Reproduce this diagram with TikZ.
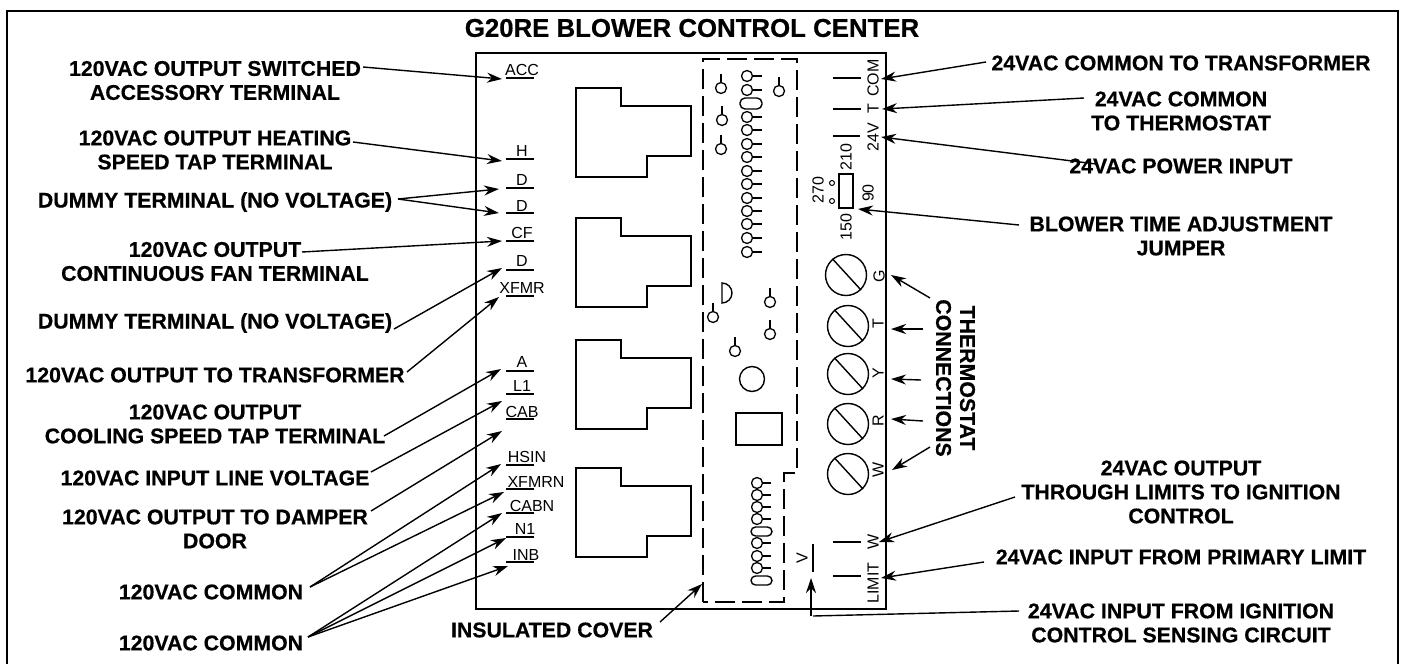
\documentclass[tikz,border=0pt]{standalone}
\usepackage{fontspec}
\setmainfont{Liberation Sans}[BoldFeatures={FakeBold=0.5}]
\usetikzlibrary{arrows.meta}

\tikzset{
    lbl/.style={font=\fontsize{21.3}{24}\selectfont\bfseries, align=center, inner sep=0pt},
    term/.style={font=\fontsize{16}{18}\selectfont, inner sep=0pt},
    ptr/.style={line width=1.4pt, -{Stealth[length=15pt, width=10pt]}},
    pin/.style={circle, draw, line width=1.3pt, minimum size=11pt, inner sep=0pt},
    screw/.style={circle, draw, line width=1.4pt, minimum size=41pt, inner sep=0pt},
    wire/.style={line width=1.4pt},
    tab/.style={line width=1.5pt, line join=miter}
}

\newcommand{\relaybox}[1]{
    \draw [tab, shift={(0,#1)}] (576,0) -- (621,0) -- (621,18) -- (691,18) -- (691,68) -- (647,68) -- (647,89) -- (576,89) -- cycle;
}

\begin{document}
\begin{tikzpicture}[x=1pt, y=-1pt]
    \useasboundingbox (0,0) rectangle (1404,664);

    % frames
    \coordinate (fa) at (7,664);
    \coordinate (fb) at (7,11);
    \coordinate (fc) at (1398,11);
    \coordinate (fd) at (1398,664);
    \draw [line width=2pt] (fa) -- (fb) -- (fc) -- (fd);
    \draw [wire] (476,609) -- (476,53) -- (886,53) -- (886,609) -- cycle;
    \node [lbl, font=\fontsize{25.8}{28}\selectfont\bfseries] (title) at (692,28) {G20RE BLOWER CONTROL CENTER};

    % relays
    \relaybox{88}
    \relaybox{218}
    \relaybox{340}
    \relaybox{468}

    % terminals on the left
    \foreach \name/\txt/\cx/\by/\ly in {tacc/ACC/522/75/78, th/H/522/156/159, tda/D/522/185/188, tdb/D/522/211/213,
        tcf/CF/522/238/241, tdc/D/522/266/270, txf/XFMR/522/293/296, ta/A/522/367/371, tla/L1/522/391/394,
        tcab/CAB/522/417/419, thsin/HSIN/527/462/465, txn/XFMRN/536/487/489, tcn/CABN/532/511/513,
        tna/N1/525/534/537, tinb/INB/526/560/562} {
        \node [term, anchor=base] (\name) at (\cx,\by) {\txt};
        \draw [wire] (506,\ly) -- (534,\ly);
    }

    % cover
    \draw [line width=1.5pt, dash pattern=on 20pt off 7pt] (703,602) -- (703,59) -- (797,59) -- (797,473) -- (784,473) -- (784,602) -- cycle;

    % pins in the cover
    \foreach \n/\py in {a/76, b/90, c/117, d/130, e/144, f/157, g/171, h/184, i/198, j/211, k/224, l/238, m/252} {
        \node [pin] (up\n) at (747,\py) {};
        \draw [wire] (up\n.east) -- (762,\py);
    }
    \draw [wire, rounded corners=5pt] (740,98) rectangle (762,109);
    \foreach \n/\py in {a/483, b/495, c/507, d/519, e/543, f/556, g/568} {
        \node [pin] (lo\n) at (757,\py) {};
        \draw [wire] (lo\n.east) -- (771,\py);
    }
    \draw [wire, rounded corners=4.5pt] (751,527) rectangle (772,536);
    \draw [wire, rounded corners=4.5pt] (751,576) rectangle (772,585);
    \foreach \n/\px/\py in {a/721/88, b/722/120, c/721/149, d/779/91, e/770/302, f/770/334, g/713/317, h/735/351} {
        \node [pin] (st\n) at (\px,\py) {};
        \draw [wire] (st\n.north) -- ++(0,-8);
    }
    \draw [wire] (722,303) arc (90:-90:10) -- cycle;
    \node [circle, draw, line width=1.4pt, minimum size=25pt, inner sep=0pt] (bigc) at (752,379) {};
    \draw [wire] (736,413) rectangle (782,445);

    % right terminals
    \draw [wire] (833,78) -- (861,78);
    \draw [wire] (833,109) -- (861,109);
    \draw [wire] (833,136) -- (860,136);
    \draw [wire] (833,542) -- (861,542);
    \draw [wire] (833,576) -- (861,576);
    \draw [wire] (813,544) -- (813,572);
    \foreach \name/\txt/\cx/\cy in {rcom/COM/873/78, rt/T/873/109, rv/24V/873/137, rw/W/873/542, rlim/LIMIT/873/583,
        rvv/V/802/558, ta/270/818/190, tb/210/846/157, tc/90/868/193, td/150/846/227,
        sg/G/879/276, st/T/878/324, sy/Y/878/373, sr/R/878/421, sw/W/878/470} {
        \node [term, rotate=90] (\name) at (\cx,\cy) {\txt};
    }

    % jumper
    \draw [wire] (839,174) rectangle (853,208);
    \node [circle, draw, line width=1pt, minimum size=5pt, inner sep=0pt] (ja) at (832,183) {};
    \node [circle, draw, line width=1pt, minimum size=5pt, inner sep=0pt] (jb) at (832,201) {};

    % screws
    \foreach \n/\sx/\sy in {g/846/275, t/848/326, y/848/374, r/848/424, w/848/474} {
        \node [screw] (s\n) at (\sx,\sy) {};
        \draw [wire] (s\n.130) -- (s\n.-45);
    }

    % texts left
    \node [lbl] (lacc) at (215,80.5) {120VAC OUTPUT SWITCHED\\ACCESSORY TERMINAL};
    \node [lbl] (lh) at (215,150) {120VAC OUTPUT HEATING\\SPEED TAP TERMINAL};
    \node [lbl] (ld) at (215,202) {DUMMY TERMINAL (NO VOLTAGE)};
    \node [lbl] (lcf) at (215,261.5) {120VAC OUTPUT\\CONTINUOUS FAN TERMINAL};
    \node [lbl] (le) at (215,323) {DUMMY TERMINAL (NO VOLTAGE)};
    \node [lbl] (lxf) at (215,375) {120VAC OUTPUT TO TRANSFORMER};
    \node [lbl] (la) at (215,424) {120VAC OUTPUT\\COOLING SPEED TAP TERMINAL};
    \node [lbl] (ll) at (215,478) {120VAC INPUT LINE VOLTAGE};
    \node [lbl] (ldm) at (215,529) {120VAC OUTPUT TO DAMPER\\DOOR};
    \node [lbl] (lca) at (211,592) {120VAC COMMON};
    \node [lbl] (lcb) at (211,643) {120VAC COMMON};
    \node [lbl] (lcov) at (552,630) {INSULATED COVER};

    % texts right
    \node [lbl] (rcomt) at (1181,63) {24VAC COMMON TO TRANSFORMER};
    \node [lbl] (rtt) at (1181,111) {24VAC COMMON\\TO THERMOSTAT};
    \node [lbl] (rvt) at (1181,166) {24VAC POWER INPUT};
    \node [lbl] (rjt) at (1181,236) {BLOWER TIME ADJUSTMENT\\JUMPER};
    \node [lbl, rotate=-90] (rst) at (955.5,378) {THERMOSTAT\\CONNECTIONS};
    \node [lbl] (rwt) at (1181,492) {24VAC OUTPUT\\THROUGH LIMITS TO IGNITION\\CONTROL};
    \node [lbl] (rlt) at (1181,557) {24VAC INPUT FROM PRIMARY LIMIT};
    \node [lbl] (rit) at (1181,623) {24VAC INPUT FROM IGNITION\\CONTROL SENSING CIRCUIT};

    % free ends of the arrows
    \foreach \n/\px/\py in {aa/502/79, ab/502/161, ac/499/189, ad/499/213, ae/502/241, af/502/268, ag/499/297,
        ah/501/369, ai/502/401, aj/502/431, ak/501/464, al/504/492, am/502/513, an/506/538, ao/508/566,
        ap/702/584, bq/811/578, ba/881/79, bb/882/109, bc/881/137, bd/858/209, be/891/275, bf/891/329,
        bg/891/379, bh/891/419, bi/892/470, bj/879/542, bk/881/578} {
        \coordinate (\n) at (\px,\py);
    }
    \coordinate (ca) at (363,67);
    \coordinate (cb) at (353,142);
    \coordinate (cc) at (398,199);
    \coordinate (cd) at (302,252);
    \coordinate (ce) at (394,329);
    \coordinate (cf) at (407,372);
    \coordinate (cg) at (384,436);
    \coordinate (ch) at (371,472);
    \coordinate (ci) at (371,511);
    \coordinate (cj) at (310,587);
    \coordinate (ck) at (308,637);
    \coordinate (cl) at (660,622);
    \coordinate (cm) at (811,616);
    \coordinate (cn) at (813,616);
    \coordinate (co) at (1019,611);
    \coordinate (dca) at (986,62);
    \coordinate (dcb) at (1084,98);
    \coordinate (dcc) at (1096,164);
    \coordinate (dcd) at (1019,225);
    \coordinate (dce) at (930,298);
    \coordinate (dcf) at (923,329);
    \coordinate (dcg) at (921,380);
    \coordinate (dch) at (923,421);
    \coordinate (dci) at (930,447);
    \coordinate (dcj) at (1015,497);
    \coordinate (dck) at (984,562);

    % arrows
    \draw [ptr] (ca) -- (aa);
    \draw [ptr] (cb) -- (ab);
    \draw [ptr] (cc) -- (ac);
    \draw [ptr] (cc) -- (ad);
    \draw [ptr] (cd) -- (ae);
    \draw [ptr] (ce) -- (af);
    \draw [ptr] (cf) -- (ag);
    \draw [ptr] (cg) -- (ah);
    \draw [ptr] (ch) -- (ai);
    \draw [ptr] (ci) -- (aj);
    \draw [ptr] (cj) -- (ak);
    \draw [ptr] (cj) -- (al);
    \draw [ptr] (ck) -- (am);
    \draw [ptr] (ck) -- (an);
    \draw [ptr] (ck) -- (ao);
    \draw [ptr] (cl) -- (ap);
    \draw [ptr] (cm) -- (bq);
    \draw [wire] (cn) -- (co);
    \draw [ptr] (dca) -- (ba);
    \draw [ptr] (dcb) -- (bb);
    \draw [ptr] (dcc) -- (bc);
    \draw [ptr] (dcd) -- (bd);
    \draw [ptr] (dce) -- (be);
    \draw [ptr] (dcf) -- (bf);
    \draw [ptr] (dcg) -- (bg);
    \draw [ptr] (dch) -- (bh);
    \draw [ptr] (dci) -- (bi);
    \draw [ptr] (dcj) -- (bj);
    \draw [ptr] (dck) -- (bk);
\end{tikzpicture}
\end{document}
